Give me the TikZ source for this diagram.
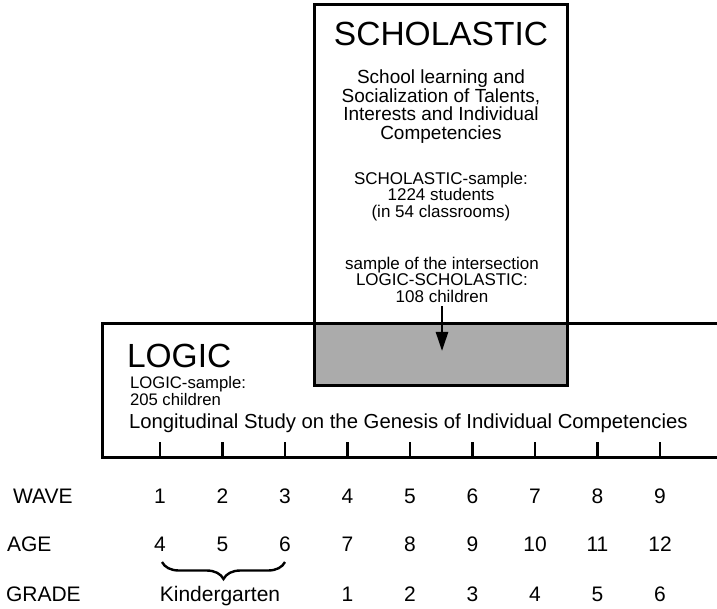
\documentclass[tikz,border=0pt]{standalone}
\usepackage{fontspec}
\setmainfont{Liberation Sans}
\usetikzlibrary{arrows.meta,decorations.pathreplacing}
\begin{document}
\begin{tikzpicture}[x=1pt,y=-1pt,
  boxline/.style={line width=3pt},
  tickline/.style={line width=2.8pt},
  txt/.style={inner sep=0pt,outer sep=0pt},
  title/.style={txt,font=\fontsize{33.5}{36}\selectfont},
  rowlab/.style={txt,anchor=base west,font=\fontsize{21}{24}\selectfont},
  num/.style={txt,anchor=base,font=\fontsize{21}{24}\selectfont},
  small/.style={txt,align=center,font=\fontsize{17}{16.5}\selectfont},
  shade/.style={fill=black!33,draw=none}]
\useasboundingbox (0,0) rectangle (717,609);
% shaded intersection
\fill[shade] (314,324) rectangle (567,385);
% SCHOLASTIC box
\draw[boxline] (314,5) rectangle (567,385);
% LOGIC box (open on the right)
\draw[boxline] (717,324) -- (102,324) -- (102,457) -- (717,457);
% ticks
\foreach \i in {0,...,8}{
  \draw[tickline] ({160+62.5*\i},442) -- ({160+62.5*\i},457);
}
% SCHOLASTIC texts
\node[title,anchor=base] (schol) at (441,46) {SCHOLASTIC};
\node[small,anchor=north,font=\fontsize{19}{18.5}\selectfont] (scholsub) at (441,70)
  {School learning and\\Socialization of Talents,\\Interests and Individual\\Competencies};
\node[small,anchor=north] (scholsample) at (441,172)
  {SCHOLASTIC-sample:\\1224 students\\(in 54 classrooms)};
\node[small,anchor=north] (inter) at (442,257)
  {sample of the intersection\\LOGIC-SCHOLASTIC:\\108 children};
\coordinate (tip) at (442,351);
\draw[line width=2.5pt,-{Triangle[length=19pt,width=12pt]}] ([yshift=-4pt]inter.south) -- (tip);
% LOGIC texts
\node[title,anchor=base west] (logic) at (127,367) {LOGIC};
\node[txt,anchor=base west,align=left,font=\fontsize{16.7}{17}\selectfont] (logicsample) at (130,405)
  {LOGIC-sample:\\205 children};
\node[txt,anchor=base west,font=\fontsize{20.3}{24}\selectfont] (longi) at (129,428)
  {Longitudinal Study on the Genesis of Individual Competencies};
% row labels
\node[rowlab] (wave) at (13,503) {WAVE};
\node[rowlab] (age) at (7,551) {AGE};
\node[rowlab] (grade) at (6,601) {GRADE};
% numbers
\foreach \w [count=\i from 0] in {1,...,9}{
  \node[num] (w\w) at ({160+62.5*\i},503) {\w};
}
\foreach \a [count=\i from 0] in {4,...,12}{
  \node[num] (a\a) at ({160+62.5*\i},551) {\a};
}
\foreach \g [count=\i from 3] in {1,...,6}{
  \node[num] (g\g) at ({160+62.5*\i},601) {\g};
}
\node[num] (kg) at (220,601) {Kindergarten};
% brace
\coordinate (bl) at (162,562);
\coordinate (br) at (285,562);
\draw[line width=2.4pt,decorate,decoration={brace,amplitude=17pt,mirror}] (bl) -- (br);
\end{tikzpicture}
\end{document}
